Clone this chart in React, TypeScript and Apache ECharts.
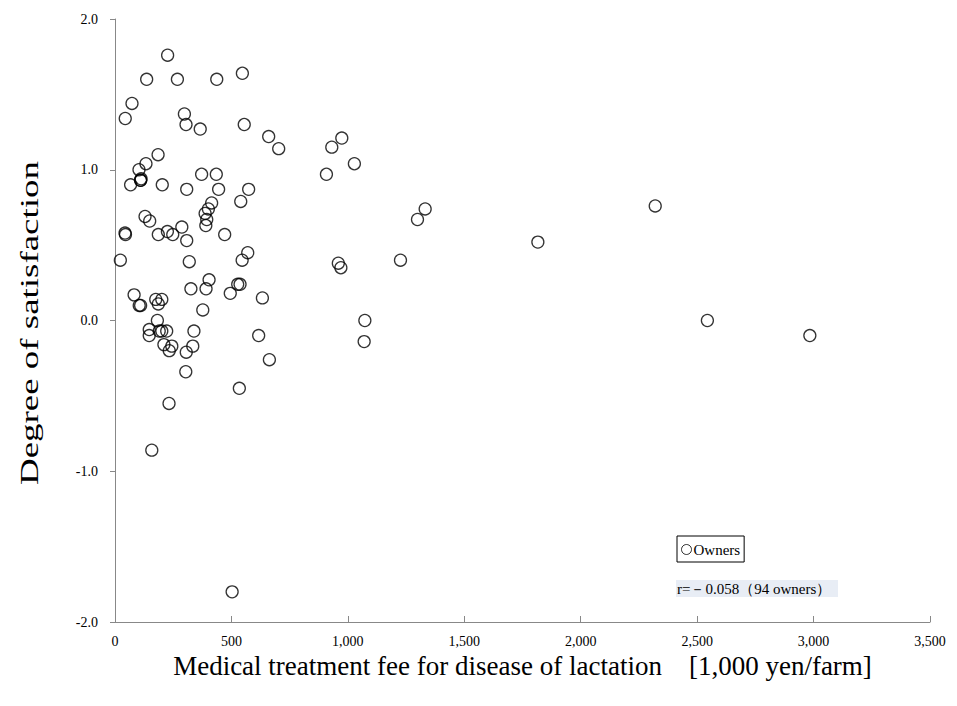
import React, { useEffect, useRef } from "react";
import * as echarts from "echarts";

const feeValues: number[] = [
  226, 136, 268, 437, 547, 73, 44, 298, 305, 366, 555, 660, 703, 185, 133, 103,
  110, 110, 112, 67, 203, 308, 372, 435, 445, 574, 540, 415, 401, 387, 394, 390,
  129, 149, 43, 45, 186, 225, 248, 287, 308, 471, 23, 319, 570, 546, 404, 326,
  391, 527, 537, 495, 633, 82, 104, 110, 175, 201, 186, 377, 182, 147, 190, 222,
  201, 147, 339, 617, 210, 244, 233, 306, 334, 663, 304, 534, 232, 158, 503, 974,
  931, 1028, 908, 1332, 1299, 959, 970, 1226, 1073, 1070, 1816, 2320, 2544, 2984,
];

const satisfactionValues: number[] = [
  1.76, 1.6, 1.6, 1.6, 1.64, 1.44, 1.34, 1.37, 1.3, 1.27, 1.3, 1.22, 1.14, 1.1, 1.04, 1.0,
  0.93, 0.93, 0.94, 0.9, 0.9, 0.87, 0.97, 0.97, 0.87, 0.87, 0.79, 0.78, 0.74, 0.71, 0.67, 0.63,
  0.69, 0.66, 0.58, 0.57, 0.57, 0.59, 0.57, 0.62, 0.53, 0.57, 0.4, 0.39, 0.45, 0.4, 0.27, 0.21,
  0.21, 0.24, 0.24, 0.18, 0.15, 0.17, 0.1, 0.1, 0.14, 0.14, 0.11, 0.07, 0.0, -0.06, -0.07, -0.07,
  -0.07, -0.1, -0.07, -0.1, -0.16, -0.17, -0.2, -0.21, -0.17, -0.26, -0.34, -0.45, -0.55, -0.86, -1.8, 1.21,
  1.15, 1.04, 0.97, 0.74, 0.67, 0.38, 0.35, 0.4, 0.0, -0.14, 0.52, 0.76, 0.0, -0.1,
];

const seriesName = "Owners";
const xAxisTitle = "Medical treatment fee for disease of lactation    [1,000 yen/farm]";
const yAxisTitle = "Degree of satisfaction";
const annotationText = "r=－0.058（94 owners）";

const FONT = "'Liberation Serif', 'Times New Roman', serif";

export default function App() {
  const ref = useRef<HTMLDivElement>(null);

  useEffect(() => {
    if (!ref.current) return;
    const chart = echarts.init(ref.current, undefined, { renderer: "svg" });
    const data = feeValues.map((x, i) => [x, satisfactionValues[i]]);
    chart.setOption({
      animation: false,
      backgroundColor: "#ffffff",
      textStyle: { fontFamily: FONT },
      grid: { left: 115, top: 19, right: 27, bottom: 84, containLabel: false },
      legend: {
        data: [seriesName],
        left: 677,
        top: 536,
        orient: "horizontal",
        icon: "circle",
        itemWidth: 10,
        itemHeight: 10,
        itemGap: 0,
        padding: [6, 4, 5, 4],
        borderColor: "#000",
        borderWidth: 1,
        borderRadius: 0,
        textStyle: { fontFamily: FONT, fontSize: 15, color: "#000", padding: [0, 0, 0, -3] },
        itemStyle: { color: "#fff", borderColor: "#000", borderWidth: 1 },
      },
      xAxis: {
        type: "value",
        min: 0,
        max: 3500,
        interval: 500,
        name: xAxisTitle,
        nameLocation: "middle",
        nameGap: 27,
        nameTextStyle: { fontFamily: FONT, fontSize: 27, color: "#000" },
        axisLine: { show: true, onZero: false, lineStyle: { color: "#888", width: 1 } },
        axisTick: { show: true, inside: true, length: 6, lineStyle: { color: "#888" } },
        splitLine: { show: false },
        axisLabel: {
          fontFamily: FONT,
          fontSize: 14,
          color: "#000",
          margin: 12,
          formatter: (v: number) => v.toLocaleString("en-US"),
        },
      },
      yAxis: {
        type: "value",
        min: -2,
        max: 2,
        interval: 1,
        axisLine: { show: true, onZero: false, lineStyle: { color: "#888", width: 1 } },
        axisTick: { show: true, inside: false, length: 5, lineStyle: { color: "#888" } },
        splitLine: { show: false },
        axisLabel: {
          fontFamily: FONT,
          fontSize: 14,
          color: "#000",
          margin: 17,
          formatter: (v: number) => v.toFixed(1),
        },
      },
      graphic: [
        {
          type: "text",
          x: 29,
          y: 323,
          rotation: Math.PI / 2,
          scaleX: 1.42,
          scaleY: 1,
          style: {
            text: yAxisTitle,
            font: `26px ${FONT}`,
            fill: "#000",
            align: "center",
            verticalAlign: "middle",
          },
        },
        {
          type: "group",
          left: 676,
          top: 580,
          children: [
            { type: "rect", shape: { x: 0, y: 0, width: 162, height: 17 }, style: { fill: "#e8edf5" } },
            {
              type: "text",
              x: 1,
              y: 9,
              style: {
                text: annotationText,
                font: `15px ${FONT}`,
                fill: "#000",
                verticalAlign: "middle",
              },
            },
          ],
        },
      ],
      series: [
        {
          name: seriesName,
          type: "scatter",
          data,
          symbol: "circle",
          symbolSize: 12,
          itemStyle: { color: "rgba(255,255,255,0)", borderColor: "#000", borderWidth: 1.3 },
        },
      ],
    });
    return () => chart.dispose();
  }, []);

  return (
    <div
      ref={ref}
      style={{ position: "absolute", left: 0, top: 0, width: 957, height: 706, background: "#fff" }}
    />
  );
}
